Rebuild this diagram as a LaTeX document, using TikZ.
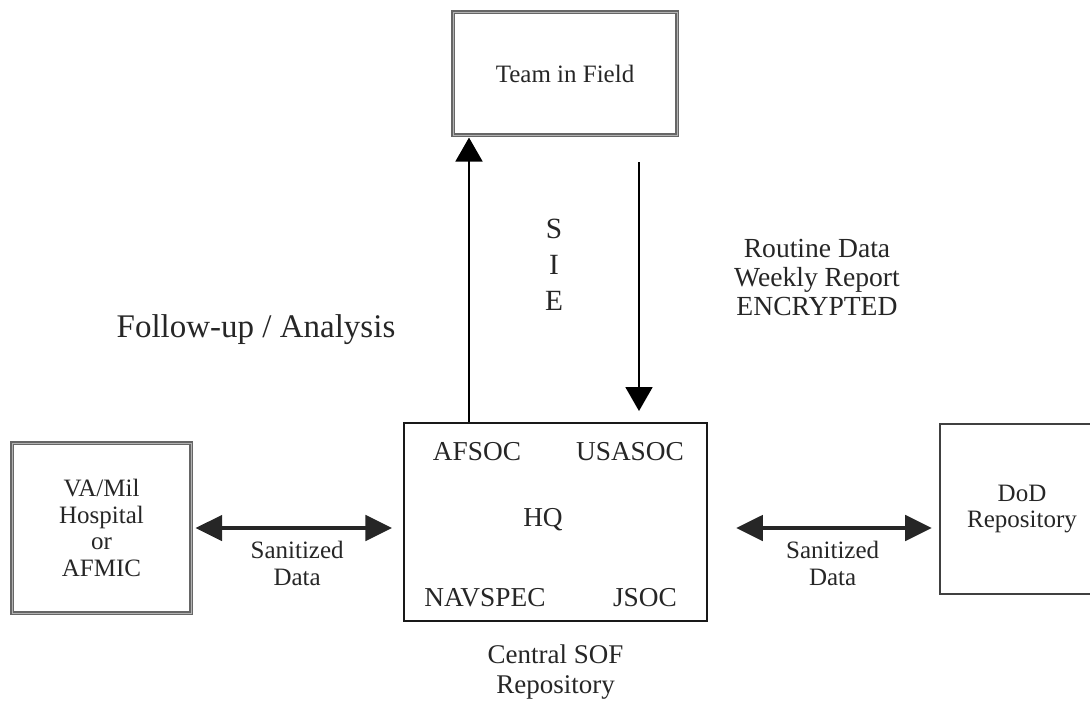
\documentclass[tikz,border=0pt]{standalone}
\usepackage{fontspec}
\setmainfont{Liberation Serif}
\usetikzlibrary{arrows.meta, positioning}
\colorlet{ink}{black!85}

\begin{document}
\begin{tikzpicture}[
    x=0.75pt, y=-0.75pt,
    every node/.style={text=ink},
    soft/.style={draw=black!60, double=black!30, double distance=0.7pt, line width=0.8pt, inner sep=0pt},
    hard/.style={draw=black!90, line width=1.9pt, inner sep=0pt},
    txt/.style={align=center, font=\fontsize{18.75}{20}\selectfont},
    unit/.style={font=\fontsize{20.5}{22}\selectfont},
    link/.style={{Triangle[length=20pt,width=19pt]}-{Triangle[length=20pt,width=19pt]}, line width=3pt, draw=black!85},
    feed/.style={-{Triangle[length=18pt,width=20pt]}, line width=2.2pt}
]

\useasboundingbox (0,0) rectangle (1090,704);
\clip (0,0) rectangle (1090,704);

% boxes
\node[soft, txt, minimum width=168pt, minimum height=92.25pt] (team) at (565,73.5) {Team in Field};
\node[soft, txt, minimum width=134.25pt, minimum height=127.5pt] (hosp) at (101.5,528) {VA/Mil\\Hospital\\or\\AFMIC};
\node[hard, minimum width=227.25pt, minimum height=148.5pt] (sof) at (555.5,522) {};
\node[hard, txt, draw=black!75, line width=2.2pt, minimum width=123pt, minimum height=127.5pt] (dod) at (1022,509) {DoD\\Repository};

% units in the central repository
\node[unit] (afsoc) at (477,452) {AFSOC};
\node[unit] (usasoc) at (630,452) {USASOC};
\node[unit] (hq) at (543,520) {HQ};
\node[unit] (navspec) at (485,598) {NAVSPEC};
\node[unit] (jsoc) at (645,598) {JSOC};
\node[txt, font=\fontsize{20.25}{22.5}\selectfont] (soflbl) [below=13pt of sof] {Central SOF\\Repository};

% free labels
\node[font=\fontsize{24.75}{28}\selectfont] (follow) at (256,330) {Follow-up / Analysis};
\node[align=center, font=\fontsize{22}{27}\selectfont] (sie) at (554,265) {S\\I\\E};
\node[align=center, font=\fontsize{20.7}{21.75}\selectfont] (routine) at (817,277) {Routine Data\\Weekly Report\\ENCRYPTED};

% connectors
\coordinate (query) at (469,0);
\coordinate (report) at (639,162);
\draw[feed, shorten >=1.5pt] (sof.north -| query) -- (team.south -| query);
\draw[feed, shorten >=8pt] (report) -- (report |- sof.north);
\draw[link, shorten <=3pt, shorten >=8pt] (hosp.east) -- node[txt, below=5pt] {Sanitized\\Data} (hosp.east -| sof.west);
\draw[link, shorten <=21pt, shorten >=5pt] (sof.east |- hosp.east) -- node[txt, pos=0.54, below=5pt] {Sanitized\\Data} (dod.west |- hosp.east);

\end{tikzpicture}
\end{document}
